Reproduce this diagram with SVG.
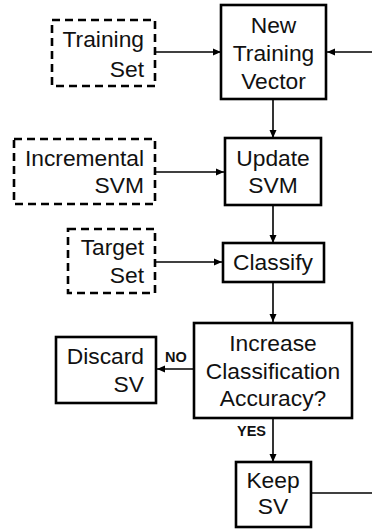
<svg xmlns="http://www.w3.org/2000/svg" width="372" height="529" viewBox="0 0 372 529">
<style>
.box{fill:#fff;stroke:#000;stroke-width:2.6}
.dash{fill:#fff;stroke:#000;stroke-width:2.6;stroke-dasharray:8 5}
.t{font-family:"Liberation Sans",Arial,sans-serif;font-size:22.8px;fill:#111}
.c{text-anchor:middle}
.r{text-anchor:end}
.lbl{font-family:"Liberation Sans",Arial,sans-serif;font-size:14.5px;font-weight:bold;fill:#111}
.ln{fill:none;stroke:#000;stroke-width:1.6}
</style>
<defs>
<marker id="ah" markerUnits="userSpaceOnUse" markerWidth="8" markerHeight="8" viewBox="0 0 8 8" refX="8" refY="4" orient="auto">
<path d="M0,0.5 L8,4 L0,7.5 Z" fill="#000"/>
</marker>
</defs>
<g id="connectors">
<line class="ln" x1="156" y1="52" x2="221" y2="52" marker-end="url(#ah)"/>
<line class="ln" x1="372" y1="52" x2="327" y2="52" marker-end="url(#ah)"/>
<line class="ln" x1="273" y1="99" x2="273" y2="138" marker-end="url(#ah)"/>
<line class="ln" x1="156" y1="172" x2="224" y2="172" marker-end="url(#ah)"/>
<line class="ln" x1="273" y1="205" x2="273" y2="243" marker-end="url(#ah)"/>
<line class="ln" x1="156" y1="262" x2="222" y2="262" marker-end="url(#ah)"/>
<line class="ln" x1="273" y1="282" x2="273" y2="322" marker-end="url(#ah)"/>
<line class="ln" x1="194" y1="369" x2="157" y2="369" marker-end="url(#ah)"/>
<line class="ln" x1="273" y1="418" x2="273" y2="462" marker-end="url(#ah)"/>
<line class="ln" x1="311" y1="493" x2="372" y2="493"/>
<text class="lbl" x="165" y="362">NO</text>
<text class="lbl" x="237" y="436">YES</text>
</g>
<g id="training-set">
<rect class="dash" x="52" y="20" width="103" height="66"/>
<text class="t r" x="144" y="47">Training</text>
<text class="t r" x="144" y="77">Set</text>
</g>
<g id="new-training-vector">
<rect class="box" x="221" y="5" width="105" height="94"/>
<text class="t c" x="273.5" y="33">New</text>
<text class="t c" x="273.5" y="61">Training</text>
<text class="t c" x="273.5" y="89">Vector</text>
</g>
<g id="incremental-svm">
<rect class="dash" x="14" y="139" width="141" height="65"/>
<text class="t r" x="144" y="166">Incremental</text>
<text class="t r" x="144" y="193">SVM</text>
</g>
<g id="update-svm">
<rect class="box" x="225" y="138" width="96" height="67"/>
<text class="t c" x="273" y="166">Update</text>
<text class="t c" x="273" y="193">SVM</text>
</g>
<g id="target-set">
<rect class="dash" x="68" y="229" width="87" height="64"/>
<text class="t r" x="144" y="255">Target</text>
<text class="t r" x="144" y="283">Set</text>
</g>
<g id="classify">
<rect class="box" x="223" y="243" width="101" height="39"/>
<text class="t c" x="273" y="270">Classify</text>
</g>
<g id="increase-accuracy">
<rect class="box" x="194" y="323" width="158" height="95"/>
<text class="t c" x="273" y="351">Increase</text>
<text class="t c" x="273" y="379">Classification</text>
<text class="t c" x="273" y="406">Accuracy?</text>
</g>
<g id="discard-sv">
<rect class="box" x="56" y="337" width="100" height="66"/>
<text class="t r" x="144" y="364">Discard</text>
<text class="t r" x="144" y="392">SV</text>
</g>
<g id="keep-sv">
<rect class="box" x="236" y="462" width="75" height="65"/>
<text class="t c" x="273" y="488">Keep</text>
<text class="t c" x="273" y="514">SV</text>
</g>
</svg>
